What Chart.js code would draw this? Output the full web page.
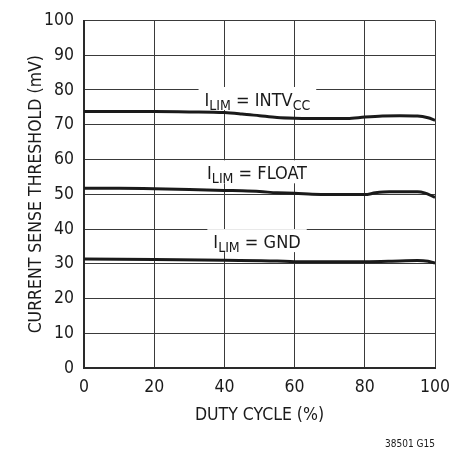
<!DOCTYPE html>
<html>
<head>
<meta charset="utf-8">
<script src="https://cdn.jsdelivr.net/npm/chart.js@4.4.0/dist/chart.umd.min.js"></script>
<style>
  html, body { margin: 0; padding: 0; background: #fff; }
  #wrap { width: 468px; height: 451px; }
</style>
</head>
<body>
<div id="wrap"><canvas id="c" width="468" height="451"></canvas></div>
<script>
const FONT = "'Liberation Sans Narrow', 'DejaVu Sans Condensed', 'Roboto Condensed', sans-serif";

const xTicks = [0, 20, 40, 60, 80, 100];
const yTicks = [0, 10, 20, 30, 40, 50, 60, 70, 80, 90, 100];

const intvX = [0, 10, 20, 30, 40, 45, 50, 55, 60, 70, 75, 80, 85, 90, 95, 98, 100];
const intvY = [73.8, 73.8, 73.8, 73.7, 73.5, 73.1, 72.6, 72.1, 71.9, 71.8, 71.8, 72.2, 72.5, 72.6, 72.5, 72.0, 71.3];

const floatX = [0, 10, 20, 30, 40, 45, 50, 55, 60, 65, 70, 75, 80, 83, 87, 95, 97, 100];
const floatY = [51.7, 51.7, 51.6, 51.4, 51.1, 51.0, 50.8, 50.4, 50.3, 50.0, 49.9, 49.9, 49.9, 50.4, 50.7, 50.7, 50.4, 49.1];

const gndX = [0, 20, 40, 55, 60, 80, 90, 95, 98, 100];
const gndY = [31.4, 31.2, 31.0, 30.8, 30.6, 30.6, 30.8, 30.9, 30.7, 30.2];

const labelMain = ["I", "I", "I"];
const labelSub = ["LIM", "LIM", "LIM"];
const labelRest = [" = INTV", " = FLOAT", " = GND"];
const labelTail = ["CC", "", ""];
const labelX = [49.4, 49.3, 49.3];
const labelY = [75.4, 54.3, 34.5];

function pts(xs, ys) { return xs.map((x, i) => ({ x: x, y: ys[i] })); }

const ds = (data) => ({
  data: data,
  borderColor: '#1a1a1a',
  borderWidth: 3,
  pointRadius: 0,
  fill: false,
  cubicInterpolationMode: 'monotone'
});

function labelParts(i) {
  return [
    { t: labelMain[i], sub: false },
    { t: labelSub[i], sub: true },
    { t: labelRest[i], sub: false },
    { t: labelTail[i], sub: true }
  ];
}
const MAINF = "18px " + FONT;
const SUBF = "14px " + FONT;

function measure(ctx, parts) {
  let w = 0;
  parts.forEach(p => { ctx.font = p.sub ? SUBF : MAINF; w += ctx.measureText(p.t).width; });
  return w;
}

const labelPlugin = {
  id: 'curveLabels',
  beforeDatasetsDraw(chart) {
    const ctx = chart.ctx;
    const xs = chart.scales.x, ys = chart.scales.y;
    ctx.save();
    for (let i = 0; i < labelMain.length; i++) {
      const parts = labelParts(i);
      const w = measure(ctx, parts);
      const cx = xs.getPixelForValue(labelX[i]);
      const by = ys.getPixelForValue(labelY[i]);
      ctx.fillStyle = '#fff';
      ctx.fillRect(cx - w / 2 - 6, by - 19, w + 12, 23);
    }
    ctx.restore();
  },
  afterDatasetsDraw(chart) {
    const ctx = chart.ctx;
    const xs = chart.scales.x, ys = chart.scales.y;
    ctx.save();
    ctx.fillStyle = '#1a1a1a';
    ctx.textBaseline = 'alphabetic';
    ctx.textAlign = 'left';
    for (let i = 0; i < labelMain.length; i++) {
      const parts = labelParts(i);
      const w = measure(ctx, parts);
      let x = xs.getPixelForValue(labelX[i]) - w / 2;
      const by = ys.getPixelForValue(labelY[i]);
      parts.forEach(p => {
        ctx.font = p.sub ? SUBF : MAINF;
        ctx.fillText(p.t, x, p.sub ? by + 4 : by);
        x += ctx.measureText(p.t).width;
      });
    }
    ctx.font = "10px " + FONT;
    ctx.textAlign = 'right';
    ctx.fillText("38501 G15", 435, 447);
    ctx.restore();
  }
};

new Chart(document.getElementById('c'), {
  type: 'line',
  data: {
    datasets: [ds(pts(intvX, intvY)), ds(pts(floatX, floatY)), ds(pts(gndX, gndY))]
  },
  options: {
    responsive: false,
    animation: false,
    devicePixelRatio: 1,
    layout: { padding: { left: 0, right: 33, top: 16, bottom: 0 } },
    plugins: { legend: { display: false }, tooltip: { enabled: false } },
    scales: {
      x: {
        type: 'linear', min: 0, max: 100,
        afterBuildTicks(s) { s.ticks = xTicks.map(v => ({ value: v })); },
        afterFit(s) { s.height = 83; },
        grid: { color: '#3a3a3a', lineWidth: 1, drawTicks: false },
        border: { color: '#2a2a2a', width: 2 },
        ticks: { color: '#1a1a1a', font: { family: FONT, size: 17.5 }, padding: 9, maxRotation: 0 },
        title: { display: true, text: 'DUTY CYCLE (%)', color: '#1a1a1a', font: { family: FONT, size: 17.5 }, padding: { top: 0, bottom: 25.5 } }
      },
      y: {
        type: 'linear', min: 0, max: 100,
        afterBuildTicks(s) { s.ticks = yTicks.map(v => ({ value: v })); },
        afterFit(s) { s.width = 84; },
        grid: { color: '#3a3a3a', lineWidth: 1, drawTicks: false },
        border: { color: '#2a2a2a', width: 2 },
        ticks: { color: '#1a1a1a', font: { family: FONT, size: 17.5 }, padding: 10 },
        title: { display: true, text: 'CURRENT SENSE THRESHOLD (mV)', color: '#1a1a1a', font: { family: FONT, size: 17.5 }, padding: { top: 26, bottom: 0 } }
      }
    }
  },
  plugins: [labelPlugin]
});
</script>
</body>
</html>
